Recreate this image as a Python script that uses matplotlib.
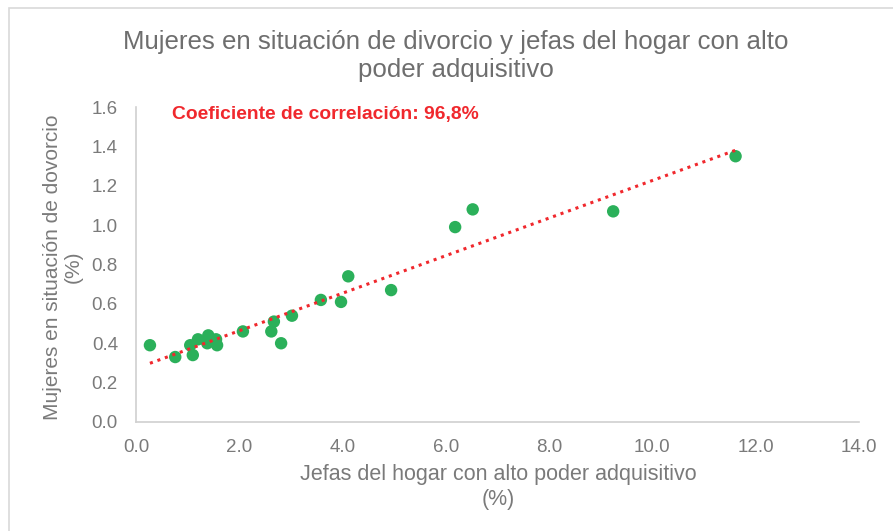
import matplotlib
matplotlib.use("Agg")
import matplotlib.pyplot as plt
import numpy as np
from matplotlib.patches import Rectangle

plt.rcParams['font.family'] = ['Liberation Sans', 'DejaVu Sans']

jefas_hogar = [0.27, 0.76, 1.05, 1.10, 1.20, 1.40, 1.38, 1.55, 1.57, 2.07, 2.62, 2.67,
               2.81, 3.02, 3.58, 3.97, 4.11, 4.94, 6.18, 6.52, 9.24, 11.61]
mujeres_divorcio = [0.39, 0.33, 0.39, 0.34, 0.42, 0.44, 0.40, 0.42, 0.39, 0.46, 0.46, 0.51,
                    0.40, 0.54, 0.62, 0.61, 0.74, 0.67, 0.99, 1.08, 1.07, 1.35]
x_ticks = [0.0, 2.0, 4.0, 6.0, 8.0, 10.0, 12.0, 14.0]
y_ticks = [0.0, 0.2, 0.4, 0.6, 0.8, 1.0, 1.2, 1.4, 1.6]

title = "Mujeres en situación de divorcio y jefas del hogar con alto\npoder adquisitivo"
xlabel = "Jefas del hogar con alto poder adquisitivo\n(%)"
ylabel = "Mujeres en situación de dovorcio\n(%)"
annot = "Coeficiente de correlación: 96,8%"

gray = '#7a7a7a'
green = '#2bb05a'
red = '#f0282d'

fig = plt.figure(figsize=(8.93, 5.31), dpi=100)
ax = fig.add_axes([136/893, 1-422/531, (859-136)/893, (422-107)/531])

x = np.array(jefas_hogar)
y = np.array(mujeres_divorcio)
coef = np.polyfit(x, y, 1)
xl = np.array([x.min(), x.max()])
ax.plot(xl, np.polyval(coef, xl), color=red, lw=2.2, ls=(0, (1, 1.6)), zorder=3)
ax.scatter(x, y, s=80, color=green, edgecolors='none', zorder=2)

ax.set_xlim(0, 14)
ax.set_ylim(0, 1.6)
ax.set_xticks(x_ticks)
ax.set_yticks(y_ticks)
ax.set_xticklabels([f"{v:.1f}" for v in x_ticks])
ax.set_yticklabels([f"{v:.1f}" for v in y_ticks])
ax.tick_params(axis='both', length=0, labelsize=13.5, colors=gray)
ax.tick_params(axis='x', pad=12)
ax.tick_params(axis='y', pad=13)
for s in ['top', 'right']:
    ax.spines[s].set_visible(False)
for s in ['left', 'bottom']:
    ax.spines[s].set_color('#d0d0d0')
    ax.spines[s].set_linewidth(1.2)

ax.text(0.70, 1.56, annot, color=red, fontsize=13.9, fontweight='bold', va='center', ha='left')

fig.text(456/893, 1-56/531, title, ha='center', va='center', fontsize=18.6, color='#6e6e6e', linespacing=1.25)
fig.text(498/893, 1-487/531, xlabel, ha='center', va='center', fontsize=15.5, color=gray, linespacing=1.2)
fig.text(63/893, 1-267/531, ylabel, ha='center', va='center', rotation=90, fontsize=15, color=gray, linespacing=1.15)

fig.patches.append(Rectangle((9/893, -0.1), 1.2, 1-8/531+0.1, transform=fig.transFigure,
                             fill=False, edgecolor='#d9d9d9', lw=1.2))

fig.savefig("out.png", dpi=100)
